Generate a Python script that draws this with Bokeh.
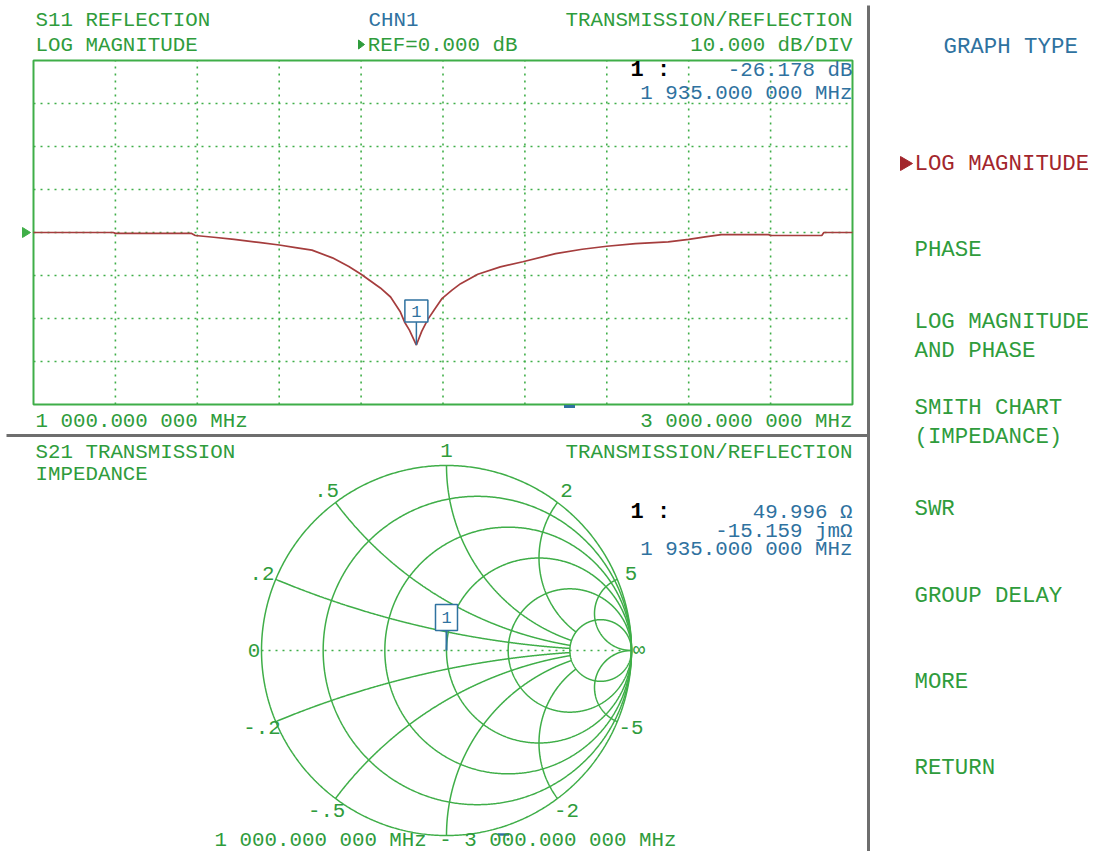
import numpy as np
from bokeh.plotting import figure
from bokeh.models import Range1d
from bokeh.core.properties import value
from bokeh.embed import file_html
from bokeh.resources import INLINE

# ---------------- data ----------------
freq_mhz = [1000, 1195, 1200, 1385, 1395, 1440, 1490, 1550, 1600, 1640, 1680,
            1730, 1770, 1800, 1847, 1872, 1896, 1906, 1918, 1935, 1948, 1963,
            1978, 1998, 2022, 2043, 2085, 2140, 2195, 2275, 2340, 2400, 2470,
            2550, 2600, 2640, 2680, 2795, 2800, 2925, 2930, 3000]
s11_db = [0.0, 0.0, -0.2, -0.2, -0.7, -1.1, -1.6, -2.3, -2.9, -3.5, -4.1,
          -5.9, -7.9, -9.7, -12.9, -15.0, -18.5, -20.8, -22.7, -26.178, -23.0, -20.2,
          -18.1, -15.3, -13.4, -11.9, -9.7, -8.0, -6.8, -4.9, -3.9, -3.2, -2.6,
          -2.2, -1.6, -1.0, -0.5, -0.5, -0.7, -0.7, 0.0, 0.0]

f_start_mhz = 1000.0
f_stop_mhz = 3000.0
ref_db = 0.0
db_per_div = 10.0
n_xdiv = 10
n_ydiv = 8
ref_div = 4  # reference line, in divisions from the bottom

marker_freq_mhz = 1935.0
marker_s11_db = -26.178
marker_r_ohm = 49.996
marker_x_mohm = -15.159
z0_ohm = 50.0

smith_r_circles = [0.2, 0.5, 1.0, 2.0, 5.0]
smith_x_arcs = [0.2, 0.5, 1.0, 2.0, 5.0]
smith_x_labels_pos = [".2", ".5", "1", "2", "5"]
smith_x_labels_neg = ["-.2", "-.5", "", "-2", "-5"]

menu_title = "GRAPH TYPE"
menu_items = [["LOG MAGNITUDE"], ["PHASE"], ["LOG MAGNITUDE", "AND PHASE"],
              ["SMITH CHART", "(IMPEDANCE)"], ["SWR"], ["GROUP DELAY"],
              ["MORE"], ["RETURN"]]
menu_selected = 0

# ---------------- layout (screen-pixel coordinates) ----------------
W, H = 1088, 851
X0, X1 = 0, W
Y0, Y1 = 0, H
GL, GR, GT, GB = 33, 852, 60, 404          # log-mag graticule
SCX, SCY, SR = 446, 650, 185               # smith chart centre / radius

GREEN_TXT = "#2f9c3c"
GRID = "#3fae48"
BLUE = "#2f72a0"
RED = "#a3262c"
TRACE = "#a53d3d"
GRAY = "#6e6e6e"
FONT = value("Liberation Mono")
FS = "20.8px"
FS_MENU = "22.4px"
DOT = "2 5"

db_top = ref_db + (n_ydiv - ref_div) * db_per_div
db_bot = ref_db - ref_div * db_per_div
mhz_per_px = (f_stop_mhz - f_start_mhz) / (GR - GL)
db_per_px = (db_top - db_bot) / (GB - GT)

p = figure(width=W, height=H, x_range=Range1d(X0, X1), y_range=Range1d(Y1, Y0),
           output_backend="svg", toolbar_location=None, min_border=0,
           x_axis_location=None, y_axis_location=None)
p.grid.visible = False
p.outline_line_color = None
p.background_fill_color = "white"
p.border_fill_color = "white"

p.extra_x_ranges = {
    "mhz": Range1d(f_start_mhz - (GL - X0) * mhz_per_px, f_stop_mhz + (X1 - GR) * mhz_per_px),
    "gx": Range1d((X0 - SCX) / SR, (X1 - SCX) / SR),
}
p.extra_y_ranges = {
    "db": Range1d(db_bot - (Y1 - GB) * db_per_px, db_top + (GT - Y0) * db_per_px),
    "gy": Range1d((SCY - Y1) / SR, (SCY - Y0) / SR),
}


def txt(x, y, s, color, size=FS, align="left", style="normal", xr="default", yr="default"):
    p.text(x=[x], y=[y], text=[s], text_color=color, text_font=FONT,
           text_font_size=size, text_align=align, text_baseline="middle",
           text_font_style=style, x_range_name=xr, y_range_name=yr)


def fmt_freq(mhz):
    whole = int(mhz)
    frac = f"{mhz - whole:.6f}"[2:]
    return f"{whole:,}".replace(",", " ") + f".{frac[:3]} {frac[3:]} MHz"


# ---------------- screen separators ----------------
p.segment(x0=[6, 868], y0=[435, 5], x1=[868, 868], y1=[435, 870],
          line_color=GRAY, line_width=3)

# ---------------- upper: log magnitude ----------------
vx = [f_start_mhz + k * (f_stop_mhz - f_start_mhz) / n_xdiv for k in range(1, n_xdiv)]
p.segment(x0=vx, y0=[db_bot] * len(vx), x1=vx, y1=[db_top] * len(vx),
          x_range_name="mhz", y_range_name="db", line_color=GRID,
          line_width=1.6, line_dash=DOT)
hy = [db_bot + k * db_per_div for k in range(1, n_ydiv)]
p.segment(x0=[f_start_mhz] * len(hy), y0=hy, x1=[f_stop_mhz] * len(hy), y1=hy,
          x_range_name="mhz", y_range_name="db", line_color=GRID,
          line_width=1.6, line_dash=DOT)
p.quad(left=[f_start_mhz], right=[f_stop_mhz], bottom=[db_bot], top=[db_top],
       x_range_name="mhz", y_range_name="db", fill_color=None,
       line_color=GRID, line_width=2)
p.line(freq_mhz, s11_db, x_range_name="mhz", y_range_name="db",
       line_color=TRACE, line_width=1.7)

# reference level arrow
p.patch(x=[22, 30, 22], y=[ref_db + 5 * db_per_px, ref_db, ref_db - 5 * db_per_px],
        y_range_name="db", fill_color=GRID, line_color=GRID)

# marker 1 on trace
off_px, bw, bh = 34, 23, 22
p.segment(x0=[marker_freq_mhz], y0=[marker_s11_db + (off_px - bh / 2) * db_per_px],
          x1=[marker_freq_mhz], y1=[marker_s11_db], x_range_name="mhz", y_range_name="db",
          line_color=BLUE, line_width=1.5)
p.rect(x=[marker_freq_mhz], y=[marker_s11_db + off_px * db_per_px], width=bw, height=bh,
       width_units="screen", height_units="screen", x_range_name="mhz", y_range_name="db",
       fill_color="white", line_color=BLUE, line_width=1.5)
txt(marker_freq_mhz, marker_s11_db + off_px * db_per_px, "1", BLUE, size="17px",
    align="center", xr="mhz", yr="db")
p.rect(x=[569], y=[406], width=11, height=3, fill_color=BLUE, line_color=None)

txt(35, 19.5, "S11 REFLECTION", GREEN_TXT)
txt(35, 44.5, "LOG MAGNITUDE", GREEN_TXT)
txt(393, 19.5, "CHN1", BLUE, align="center")
p.patch(x=[358, 364, 358], y=[39.5, 44, 48.5], fill_color=GREEN_TXT, line_color=GREEN_TXT)
txt(517, 44.5, f"REF={ref_db:.3f} dB", GREEN_TXT, align="right")
txt(852, 19.5, "TRANSMISSION/REFLECTION", GREEN_TXT, align="right")
txt(852, 44.5, f"{db_per_div:.3f} dB/DIV", GREEN_TXT, align="right")
txt(630, 70, "1 :", "black", size="22px", style="bold")
txt(852, 70, f"{marker_s11_db:.3f} dB", BLUE, align="right")
txt(852, 93, fmt_freq(marker_freq_mhz), BLUE, align="right")
txt(35, 421, fmt_freq(f_start_mhz), GREEN_TXT)
txt(852, 421, fmt_freq(f_stop_mhz), GREEN_TXT, align="right")

# ---------------- lower: smith chart ----------------
def gamma(z):
    return (z - 1) / (z + 1)

t = np.linspace(0, 2 * np.pi, 721)
sx, sy = [], []
for r in [0.0] + smith_r_circles:
    c, rad = r / (1 + r), 1 / (1 + r)
    sx.append(list(c + rad * np.cos(t)))
    sy.append(list(rad * np.sin(t)))
for xv in smith_x_arcs:
    rmax = 1e4 if xv >= 5 else max(smith_r_circles)
    rr = np.concatenate([np.linspace(0, 1, 250), np.geomspace(1, rmax, 300)[1:]])
    for sgn in (1, -1):
        g = gamma(rr + 1j * sgn * xv)
        sx.append(list(g.real))
        sy.append(list(g.imag))
p.multi_line(xs=sx, ys=sy, x_range_name="gx", y_range_name="gy",
             line_color=GRID, line_width=1.5)
p.segment(x0=[-1], y0=[0], x1=[1], y1=[0], x_range_name="gx", y_range_name="gy",
          line_color=GRID, line_width=1.6, line_dash=DOT)

lx, ly, lt = [], [], []
for xv, lp, ln in zip(smith_x_arcs, smith_x_labels_pos, smith_x_labels_neg):
    for sgn, lab in ((1, lp), (-1, ln)):
        if not lab:
            continue
        g = gamma(1j * sgn * xv) * 1.08
        lx.append(g.real)
        ly.append(g.imag)
        lt.append(lab)
lx += [-1.04, 1.04]
ly += [0.0, 0.0]
lt += ["0", "∞"]
p.text(x=lx, y=ly, text=lt, x_range_name="gx", y_range_name="gy", text_color=GREEN_TXT,
       text_font=FONT, text_font_size=FS, text_align="center", text_baseline="middle")

zm = complex(marker_r_ohm, marker_x_mohm * 1e-3) / z0_ohm
gm = gamma(zm)
soff, sbw, sbh = 33, 22, 26
p.segment(x0=[gm.real], y0=[gm.imag + (soff - sbh / 2) / SR], x1=[gm.real], y1=[gm.imag],
          x_range_name="gx", y_range_name="gy", line_color=BLUE, line_width=2)
p.rect(x=[gm.real], y=[gm.imag + soff / SR], width=sbw, height=sbh,
       width_units="screen", height_units="screen", x_range_name="gx", y_range_name="gy",
       fill_color="white", line_color=BLUE, line_width=1.5)
txt(gm.real, gm.imag + soff / SR, "1", BLUE, size="17px", align="center", xr="gx", yr="gy")
p.rect(x=[503], y=[834], width=11, height=2.5, fill_color=BLUE, line_color=None)

txt(35, 452, "S21 TRANSMISSION", GREEN_TXT)
txt(35, 474, "IMPEDANCE", GREEN_TXT)
txt(852, 452, "TRANSMISSION/REFLECTION", GREEN_TXT, align="right")
txt(630, 512, "1 :", "black", size="22px", style="bold")
txt(852, 512, f"{marker_r_ohm:.3f} Ω", BLUE, align="right")
txt(852, 531, f"{marker_x_mohm:.3f} jmΩ", BLUE, align="right")
txt(852, 549, fmt_freq(marker_freq_mhz), BLUE, align="right")
txt(445, 840, fmt_freq(f_start_mhz) + " - " + fmt_freq(f_stop_mhz), GREEN_TXT, align="center")

# ---------------- softkey menu ----------------
txt(943, 46.5, menu_title, BLUE, size=FS_MENU)
for k, lines in enumerate(menu_items):
    yc = 163 + 86.4 * k
    col = RED if k == menu_selected else GREEN_TXT
    n = len(lines)
    for j, s in enumerate(lines):
        txt(914, yc + (j - (n - 1) / 2) * 28.6, s, col, size=FS_MENU)
    if k == menu_selected:
        p.patch(x=[900, 912, 900], y=[yc - 7, yc, yc + 7], fill_color=RED, line_color=RED)

open("out.html", "w").write(file_html(p, INLINE))
